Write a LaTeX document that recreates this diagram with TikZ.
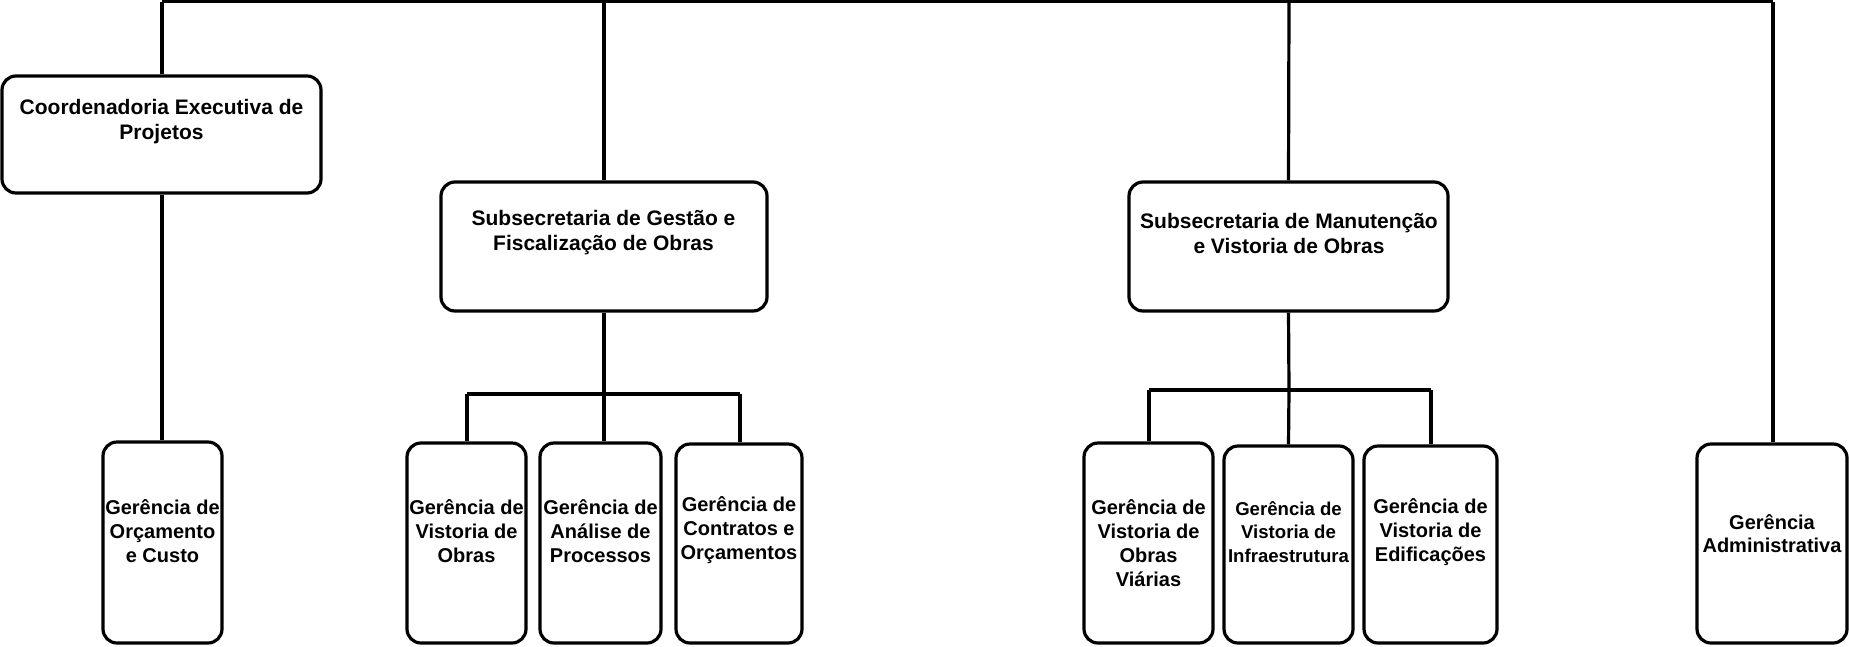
\documentclass[tikz,border=0pt]{standalone}
\usepackage{fontspec}
\setmainfont{Liberation Sans}
\begin{document}
\begin{tikzpicture}[x=1pt,y=-1pt,
  box/.style={draw=black, line width=3.2pt, rounded corners=14pt, fill=white, inner sep=0pt},
  lbl/.style={align=center, font=\bfseries, inner sep=0pt},
  big/.style={lbl, font=\bfseries\fontsize{21}{25}\selectfont},
  small/.style={lbl, font=\bfseries\fontsize{20}{24}\selectfont},
  tiny/.style={lbl, font=\bfseries\fontsize{18.6}{23.5}\selectfont},
  admin/.style={lbl, font=\bfseries\fontsize{20}{23.5}\selectfont},
  conn/.style={draw=black, line width=3.2pt}]
\useasboundingbox (0,0) rectangle (1849,646);

% boxes
\node[box, minimum width=319pt, minimum height=117pt] (B1) at (161.5,134.5) {};
\node[box, minimum width=326pt, minimum height=129pt] (B2) at (604,246.5) {};
\node[box, minimum width=319pt, minimum height=129pt] (B3) at (1288.5,246.5) {};
\node[box, minimum width=119pt, minimum height=201pt] (G1) at (162.5,542.5) {};
\node[box, minimum width=119pt, minimum height=200pt] (G2) at (466.5,543) {};
\node[box, minimum width=121pt, minimum height=200pt] (G3) at (600.5,543) {};
\node[box, minimum width=126pt, minimum height=199pt] (G4) at (739,543.5) {};
\node[box, minimum width=129pt, minimum height=200pt] (G5) at (1148.5,543) {};
\node[box, minimum width=129pt, minimum height=197pt] (G6) at (1288.5,544.5) {};
\node[box, minimum width=133pt, minimum height=197pt] (G7) at (1430.5,544.5) {};
\node[box, minimum width=150pt, minimum height=199pt] (G8) at (1772,543.5) {};

% texts
\node[big] (T1) at (161.5,121.5) {Coordenadoria Executiva de\\Projetos};
\node[big] (T2) at (603.5,233) {Subsecretaria de Gestão e\\Fiscalização de Obras};
\node[big] (T3) at (1289,233) {Subsecretaria de Manutenção\\e Vistoria de Obras};
\node[small] (U1) at (162.5,531) {Gerência de\\Orçamento\\e Custo};
\node[small] (U2) at (466.5,531) {Gerência de\\Vistoria de\\Obras};
\node[small] (U3) at (600.5,531) {Gerência de\\Análise de\\Processos};
\node[small] (U4) at (739,530.5) {Gerência de\\Contratos e\\Orçamentos};
\node[small] (U5) at (1148.5,543) {Gerência de\\Vistoria de\\Obras\\Viárias};
\node[tiny] (U6) at (1288.5,532) {Gerência de\\Vistoria de\\Infraestrutura};
\node[small] (U7) at (1430.5,532) {Gerência de\\Vistoria de\\Edificações};
\node[admin] (U8) at (1772,533.5) {Gerência\\Administrativa};

% connector points
\coordinate (top1) at (162,1.6);
\coordinate (top2) at (604,1.6);
\coordinate (top3) at (1289,1.6);
\coordinate (top4) at (1773,1.6);
\coordinate (br1) at (604,394);
\coordinate (br1l) at (467,394);
\coordinate (br1r) at (740,394);
\coordinate (br2) at (1289,390);
\coordinate (br2l) at (1149,390);
\coordinate (br2r) at (1431,390);

% connectors
\draw[conn] (top1) -- (top4);
\draw[conn] (top1) -- (top1 |- B1.north);
\draw[conn] (B1.south -| top1) -- (top1 |- G1.north);
\draw[conn] (top2) -- (B2.north);
\draw[conn] (B2.south) -- (br1);
\draw[conn] (br1l) -- (br1r);
\draw[conn] (br1l) -- (br1l |- G2.north);
\draw[conn] (br1) -- (br1 |- G3.north);
\draw[conn] (br1r) -- (br1r |- G4.north);
\draw[conn] (top3) -- (B3.north);
\draw[conn] (B3.south) -- (br2);
\draw[conn] (br2l) -- (br2r);
\draw[conn] (br2l) -- (br2l |- G5.north);
\draw[conn] (br2) -- (G6.north);
\draw[conn] (br2r) -- (br2r |- G7.north);
\draw[conn] (top4) -- (top4 |- G8.north);
\end{tikzpicture}
\end{document}
